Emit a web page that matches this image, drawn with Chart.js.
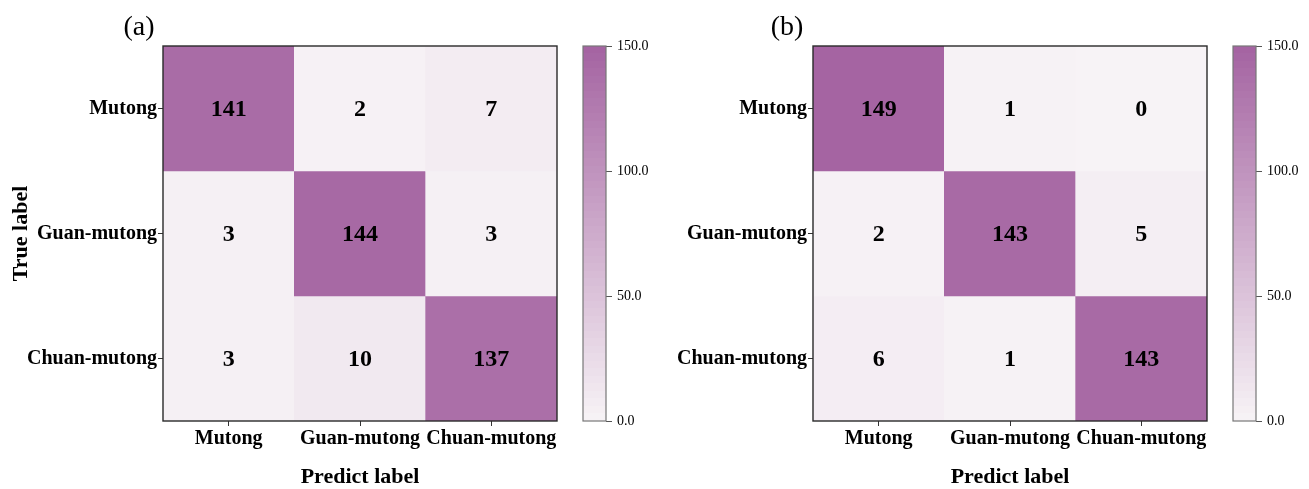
<!DOCTYPE html>
<html>
<head>
<meta charset="utf-8">
<script src="https://cdn.jsdelivr.net/npm/chart.js@4.4.1/dist/chart.umd.min.js"></script>
<style>
  html, body { margin: 0; padding: 0; background: #fff; }
  #stage { position: relative; width: 1309px; height: 489px; overflow: hidden; }
  .holder { position: absolute; top: 0; height: 489px; }
  .holder canvas { display: block; }
  .tag { position: absolute; font-family: 'Liberation Serif', 'Times New Roman', serif;
         font-size: 28px; color: #000; line-height: 1; transform: translate(-50%, -50%); }
</style>
</head>
<body>
<div id="stage">
  <div class="holder" style="left:0;width:575px"><canvas id="matA"></canvas></div>
  <div class="holder" style="left:575px;width:100px"><canvas id="barA"></canvas></div>
  <div class="holder" style="left:640px;width:585px"><canvas id="matB"></canvas></div>
  <div class="holder" style="left:1225px;width:84px"><canvas id="barB"></canvas></div>
  <div class="tag" style="left:139px;top:26px">(a)</div>
  <div class="tag" style="left:787px;top:26px">(b)</div>
</div>
<script>
// Class names shared by both confusion matrices
const classLabels = ['Mutong', 'Guan-mutong', 'Chuan-mutong'];

// Confusion matrix (a): rows = true label, columns = predicted label
const matrixA = [
  [141, 2, 7],
  [3, 144, 3],
  [3, 10, 137]
];

// Confusion matrix (b)
const matrixB = [
  [149, 1, 0],
  [2, 143, 5],
  [6, 1, 143]
];

// Colour bar range and its tick values
const colorRange = [0, 150];
const colorTicks = [0, 50, 100, 150];

const FONT = "'Liberation Serif', 'Times New Roman', serif";
const LOW = [247, 243, 246];
const HIGH = [164, 99, 161];

function cmap(v) {
  const t = Math.max(0, Math.min(1, (v - colorRange[0]) / (colorRange[1] - colorRange[0])));
  const c = LOW.map((lo, i) => Math.round(lo + (HIGH[i] - lo) * t));
  return `rgb(${c[0]},${c[1]},${c[2]})`;
}

// Writes each cell's count at the centre of its bar
const cellText = {
  id: 'cellText',
  afterDatasetsDraw(chart) {
    const ctx = chart.ctx;
    const m = chart.options.plugins.cellText.matrix;
    ctx.save();
    ctx.font = `bold 24px ${FONT}`;
    ctx.fillStyle = '#000';
    ctx.textAlign = 'center';
    ctx.textBaseline = 'middle';
    chart.data.datasets.forEach((ds, r) => {
      const meta = chart.getDatasetMeta(r);
      meta.data.forEach((bar, c) => {
        ctx.fillText(String(m[r][c]), bar.x, (bar.y + bar.base) / 2 + 1);
      });
    });
    ctx.restore();
  }
};

// Frame round the plotting area
const frame = {
  id: 'frame',
  afterDraw(chart) {
    const a = chart.chartArea;
    const o = chart.options.plugins.frame;
    const ctx = chart.ctx;
    ctx.save();
    ctx.strokeStyle = o.color;
    ctx.lineWidth = o.width;
    ctx.strokeRect(a.left, a.top, a.right - a.left, a.bottom - a.top);
    ctx.restore();
  }
};

function matrixChart(id, matrix, opts) {
  const datasets = matrix.map((row, r) => ({
    label: classLabels[r],
    data: row.map(() => [r, r + 1]),
    backgroundColor: row.map(v => cmap(v)),
    borderWidth: 0,
    barPercentage: 1,
    categoryPercentage: 1,
    grouped: false
  }));
  return new Chart(document.getElementById(id), {
    type: 'bar',
    data: { labels: classLabels, datasets },
    options: {
      responsive: true,
      maintainAspectRatio: false,
      animation: false,
      layout: { padding: { top: 46, right: opts.padRight, left: 0, bottom: 0 } },
      plugins: {
        legend: { display: false },
        tooltip: { enabled: false },
        cellText: { matrix },
        frame: { color: '#2a2a2a', width: 1.4 }
      },
      scales: {
        x: {
          type: 'category',
          offset: true,
          grid: { drawOnChartArea: false, drawTicks: true, tickLength: 5, color: '#333', offset: false },
          border: { display: false },
          ticks: { color: '#000', font: { family: FONT, size: 20, weight: 'bold' }, padding: 1, maxRotation: 0, autoSkip: false },
          title: { display: true, text: 'Predict label', color: '#000',
                   font: { family: FONT, size: 22, weight: 'bold', lineHeight: 1 }, padding: { top: 0, bottom: 1 } },
          afterFit(s) { s.height = 68; }
        },
        y: {
          type: 'linear',
          min: 0, max: 3,
          reverse: true,
          grid: { drawOnChartArea: false, drawTicks: true, tickLength: 5, color: '#333' },
          border: { display: false },
          afterBuildTicks(s) { s.ticks = [0.5, 1.5, 2.5].map(v => ({ value: v })); },
          ticks: {
            color: '#000', font: { family: FONT, size: 20, weight: 'bold' }, padding: 1,
            callback: (v) => classLabels[Math.floor(v)]
          },
          title: { display: opts.yTitle, text: 'True label', color: '#000',
                   font: { family: FONT, size: 22, weight: 'bold', lineHeight: 1.2 }, padding: { top: 8, bottom: 0 } },
          afterFit(s) { s.width = opts.yWidth; }
        }
      }
    },
    plugins: [cellText, frame]
  });
}

function colorBar(id, padLeft, axisWidth) {
  return new Chart(document.getElementById(id), {
    type: 'bar',
    data: {
      labels: [''],
      datasets: [{
        data: [colorRange.slice()],
        borderWidth: 0,
        barPercentage: 1,
        categoryPercentage: 1,
        backgroundColor(c) {
          const area = c.chart.chartArea;
          if (!area) return cmap(colorRange[1]);
          const g = c.chart.ctx.createLinearGradient(0, area.bottom, 0, area.top);
          const bands = 50;
          for (let i = 0; i < bands; i++) {
            const v = colorRange[0] + (i + 0.5) / bands * (colorRange[1] - colorRange[0]);
            const col = cmap(v);
            g.addColorStop(i / bands, col);
            g.addColorStop((i + 1) / bands, col);
          }
          return g;
        }
      }]
    },
    options: {
      responsive: true,
      maintainAspectRatio: false,
      animation: false,
      layout: { padding: { top: 46, left: padLeft, right: 0, bottom: 68 } },
      plugins: {
        legend: { display: false },
        tooltip: { enabled: false },
        frame: { color: '#777', width: 1.2 }
      },
      scales: {
        x: { display: false, offset: true },
        y: {
          position: 'right',
          min: colorRange[0], max: colorRange[1],
          grid: { drawOnChartArea: false, drawTicks: true, tickLength: 6, color: '#555' },
          border: { display: false },
          afterBuildTicks(s) { s.ticks = colorTicks.map(v => ({ value: v })); },
          ticks: { color: '#000', font: { family: FONT, size: 14 }, padding: 5,
                   callback: (v) => Number(v).toFixed(1) },
          afterFit(s) { s.width = axisWidth; }
        }
      }
    },
    plugins: [frame]
  });
}

matrixChart('matA', matrixA, { padRight: 18, yWidth: 163, yTitle: true });
matrixChart('matB', matrixB, { padRight: 18, yWidth: 173, yTitle: false });
colorBar('barA', 8, 69);
colorBar('barB', 8, 53);
</script>
</body>
</html>
